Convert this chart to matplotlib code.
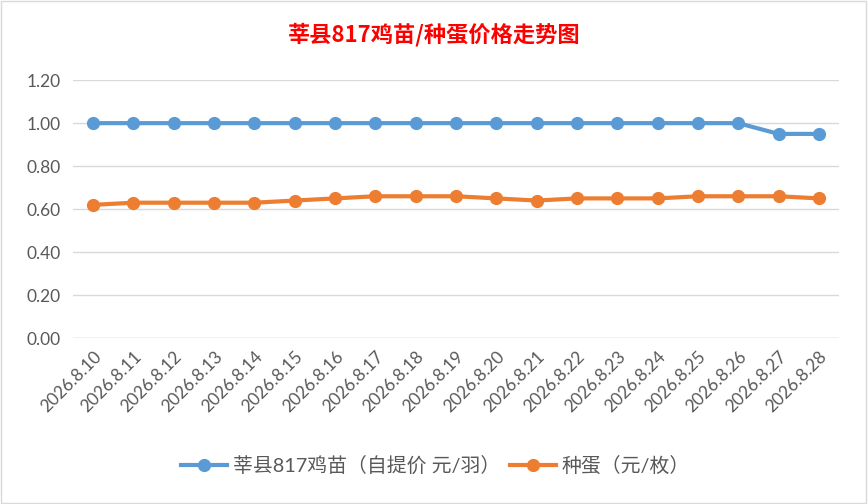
import matplotlib.pyplot as plt
from matplotlib.patches import Rectangle

plt.rcParams['font.family'] = ['Lato', 'Noto Sans CJK SC', 'DejaVu Sans']

# dates on the x axis
dates = ['2026.8.10', '2026.8.11', '2026.8.12', '2026.8.13', '2026.8.14',
         '2026.8.15', '2026.8.16', '2026.8.17', '2026.8.18', '2026.8.19',
         '2026.8.20', '2026.8.21', '2026.8.22', '2026.8.23', '2026.8.24',
         '2026.8.25', '2026.8.26', '2026.8.27', '2026.8.28']
# chick price (yuan per bird)
chick = [1.00, 1.00, 1.00, 1.00, 1.00, 1.00, 1.00, 1.00, 1.00, 1.00,
         1.00, 1.00, 1.00, 1.00, 1.00, 1.00, 1.00, 0.95, 0.95]
# hatching egg price (yuan per egg)
egg = [0.62, 0.63, 0.63, 0.63, 0.63, 0.64, 0.65, 0.66, 0.66, 0.66,
       0.65, 0.64, 0.65, 0.65, 0.65, 0.66, 0.66, 0.66, 0.65]
yticks = [0.00, 0.20, 0.40, 0.60, 0.80, 1.00, 1.20]

fig = plt.figure(figsize=(8.68, 5.04), dpi=100)
ax = fig.add_axes([0.084, 0.329, 0.8826, 0.512])

x = range(len(dates))
ax.plot(x, chick, color='#5B9BD5', lw=3, marker='o', ms=8.5,
        label='莘县817鸡苗（自提价 元/羽）', zorder=3)
ax.plot(x, egg, color='#ED7D31', lw=3, marker='o', ms=8.5,
        label='种蛋（元/枚）', zorder=3)

ax.set_xlim(-0.5, len(dates) - 0.5)
ax.set_ylim(0, 1.2)
ax.set_yticks(yticks)
ax.set_yticklabels(['%.2f' % v for v in yticks])
ax.set_xticks(list(x))
ax.set_xticklabels(dates, rotation=45, ha='right', rotation_mode='anchor')
ax.tick_params(axis='both', length=0, labelsize=12.5, colors='#595959', pad=9)
ax.tick_params(axis='x', pad=7)
ax.grid(axis='y', color='#d9d9d9', lw=1)
for s in ax.spines.values():
    s.set_visible(False)
ax.axhline(0, color='#d9d9d9', lw=1)

fig.text(0.5, 0.932, '莘县817鸡苗/种蛋价格走势图', ha='center', va='center',
         fontsize=16, fontweight='bold', color='#FF0000',
         family=['Noto Sans CJK SC', 'DejaVu Sans'])

fig.legend(loc='center', bbox_to_anchor=(0.502, 0.077), ncol=2, frameon=False,
           fontsize=14.3, handlelength=2.3, columnspacing=0.5, handletextpad=0.3,
           labelcolor='#595959')

fig.patches.append(Rectangle((0.001, 0.001), 0.997, 0.997, transform=fig.transFigure,
                             fill=False, edgecolor='#d9d9d9', lw=1))

fig.savefig('out.png', dpi=100)
